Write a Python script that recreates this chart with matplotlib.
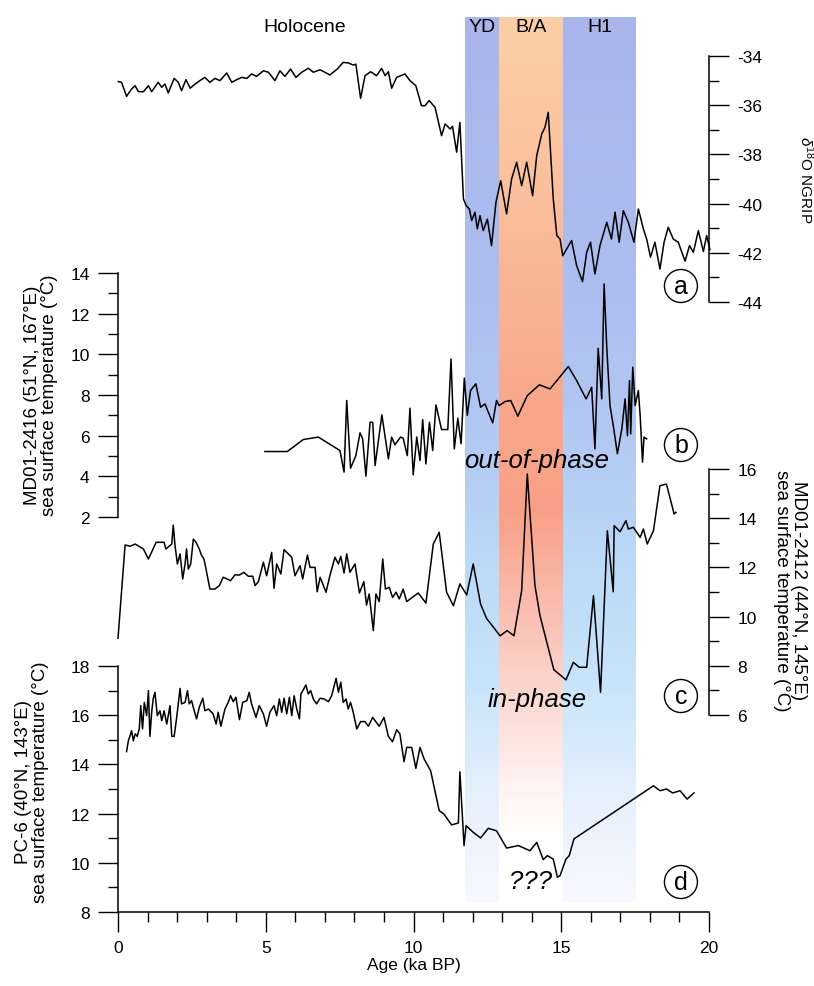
import numpy as np
import matplotlib.pyplot as plt
from matplotlib.colors import LinearSegmentedColormap
from matplotlib.ticker import MultipleLocator

plt.rcParams['font.family'] = ['Liberation Sans', 'DejaVu Sans']
plt.rcParams['mathtext.fontset'] = 'custom'
plt.rcParams['mathtext.rm'] = 'Liberation Sans'
plt.rcParams['mathtext.it'] = 'Liberation Sans:italic'
plt.rcParams['axes.unicode_minus'] = False

# --- records -------------------------------------------------------------
# (a) NGRIP d18O
a_age = [0.01, 0.12, 0.29, 0.46, 0.58, 0.69, 0.86, 1.03, 1.14, 1.36, 1.48, 1.59, 1.70,
         1.90, 2.04, 2.15, 2.30, 2.44, 2.61, 2.77, 2.94, 3.11, 3.28, 3.45, 3.68, 3.85,
         4.02, 4.19, 4.36, 4.52, 4.69, 4.92, 5.09, 5.31, 5.48, 5.65, 5.84, 6.02, 6.22,
         6.44, 6.61, 6.84, 7.17, 7.42, 7.62, 7.79, 7.96, 8.05, 8.21, 8.36, 8.55, 8.75,
         8.92, 9.04, 9.15, 9.26, 9.43, 9.71, 9.88, 10.08, 10.27, 10.39, 10.53, 10.73,
         10.95, 11.07, 11.24, 11.32, 11.46, 11.57, 11.69, 11.78, 11.89, 11.97, 12.08,
         12.16, 12.25, 12.36, 12.50, 12.64, 12.79, 12.95, 13.15, 13.32, 13.49, 13.66,
         13.83, 14.03, 14.17, 14.34, 14.45, 14.56, 14.73, 14.85, 14.96, 15.05, 15.18,
         15.35, 15.52, 15.72, 15.86, 15.99, 16.14, 16.31, 16.54, 16.70, 16.82, 16.96,
         17.10, 17.27, 17.46, 17.61, 17.78, 17.89, 18.02, 18.17, 18.34, 18.48, 18.62,
         18.79, 18.96, 19.19, 19.34, 19.47, 19.64, 19.81, 19.92, 20.03]
a_d18o = [-35.04, -35.07, -35.64, -35.34, -35.21, -35.45, -35.45, -35.21, -35.45, -35.07,
          -35.27, -35.14, -35.50, -34.91, -35.07, -35.41, -34.96, -35.31, -35.14, -35.00,
          -34.87, -35.07, -34.91, -35.00, -34.69, -35.07, -34.96, -34.87, -34.91, -34.73,
          -34.83, -34.60, -34.66, -35.00, -34.60, -34.83, -34.53, -34.87, -34.66, -34.50,
          -34.66, -34.56, -34.77, -34.53, -34.26, -34.28, -34.37, -34.33, -35.72, -34.80,
          -34.64, -34.80, -34.50, -34.80, -34.64, -35.31, -34.87, -34.73, -35.00, -35.21,
          -36.02, -36.02, -35.81, -36.09, -37.24, -36.76, -36.97, -36.86, -37.91, -36.70,
          -39.81, -40.08, -40.22, -40.69, -40.35, -41.03, -40.49, -41.10, -40.63, -41.71,
          -39.95, -39.07, -40.42, -39.00, -38.32, -39.27, -38.32, -39.68, -38.05, -37.17,
          -36.90, -36.29, -39.81, -41.30, -41.44, -42.12, -41.85, -41.50, -42.52, -43.17,
          -41.98, -41.57, -42.86, -41.71, -40.76, -41.44, -40.35, -41.57, -40.29, -40.76,
          -41.57, -40.22, -41.03, -41.44, -42.18, -41.57, -42.66, -41.57, -40.96, -41.44,
          -41.57, -42.34, -41.71, -41.98, -41.10, -41.95, -41.30, -41.87]

# (b) MD01-2416 SST
b_age = [4.97, 5.73, 6.27, 6.78, 7.51, 7.65, 7.74, 7.87, 8.05, 8.19, 8.28, 8.39, 8.53,
         8.62, 8.70, 8.93, 9.15, 9.26, 9.37, 9.56, 9.65, 9.79, 9.88, 9.99, 10.11, 10.22,
         10.31, 10.42, 10.54, 10.65, 10.76, 10.95, 11.16, 11.27, 11.38, 11.50, 11.61,
         11.72, 11.82, 11.93, 12.11, 12.27, 12.42, 12.53, 12.68, 12.81, 12.90, 13.10,
         13.29, 13.53, 13.85, 14.26, 14.62, 15.24, 15.52, 15.84, 16.03, 16.14, 16.25,
         16.37, 16.45, 16.54, 16.65, 16.76, 16.90, 17.05, 17.16, 17.24, 17.31, 17.35,
         17.42, 17.50, 17.61, 17.67, 17.75, 17.80, 17.89]
b_sst = [5.22, 5.22, 5.81, 5.93, 5.27, 4.21, 7.73, 4.40, 5.02, 6.14, 5.84, 4.01, 6.66,
         6.66, 4.53, 7.02, 4.86, 5.93, 5.55, 5.93, 5.88, 5.02, 7.35, 4.07, 5.93, 4.78,
         6.79, 4.61, 6.66, 5.27, 7.51, 6.30, 6.30, 9.77, 5.35, 6.86, 5.60, 8.83, 7.00,
         8.22, 8.55, 7.40, 7.56, 7.16, 6.63, 7.73, 7.48, 7.68, 7.73, 6.96, 7.97, 8.50,
         8.30, 9.40, 8.71, 7.81, 8.38, 5.35, 10.30, 7.81, 13.46, 10.35, 7.48, 6.50, 5.11,
         6.33, 7.81, 6.00, 8.71, 6.09, 9.37, 7.48, 8.22, 7.00, 4.70, 5.93, 5.84]

# (c) MD01-2412 SST
c_age = [0.00, 0.24, 0.41, 0.58, 0.86, 1.03, 1.29, 1.56, 1.62, 1.82, 1.87, 1.93, 2.01,
         2.10, 2.19, 2.27, 2.32, 2.38, 2.46, 2.55, 2.64, 2.75, 2.83, 2.91, 3.00, 3.11,
         3.28, 3.43, 3.56, 3.81, 3.96, 4.11, 4.26, 4.41, 4.56, 4.64, 4.75, 4.92, 5.03,
         5.20, 5.28, 5.37, 5.51, 5.62, 5.88, 5.99, 6.16, 6.25, 6.41, 6.50, 6.67, 6.74,
         6.84, 7.04, 7.17, 7.34, 7.46, 7.54, 7.65, 7.74, 7.85, 8.02, 8.17, 8.32, 8.41,
         8.50, 8.64, 8.73, 8.84, 8.96, 9.05, 9.18, 9.29, 9.41, 9.52, 9.65, 9.77, 10.16,
         10.42, 10.67, 10.87, 11.12, 11.35, 11.57, 11.80, 12.02, 12.27, 12.47, 12.93,
         13.17, 13.40, 13.66, 13.85, 14.11, 14.28, 14.75, 15.16, 15.41, 15.61, 15.86,
         16.09, 16.33, 16.56, 16.76, 16.79, 16.99, 17.19, 17.27, 17.44, 17.67, 17.78,
         17.91, 18.12, 18.34, 18.56, 18.82, 18.88]
c_sst = [9.12, 12.91, 12.86, 12.95, 12.75, 12.34, 13.02, 13.02, 12.75, 12.95, 13.72,
         12.88, 12.14, 12.55, 11.53, 12.14, 12.75, 11.93, 12.14, 13.15, 13.02, 12.75,
         12.48, 12.34, 11.80, 11.12, 11.12, 11.26, 11.60, 11.46, 11.70, 11.69, 11.80,
         11.64, 11.64, 11.26, 11.42, 12.21, 11.66, 12.61, 11.15, 12.14, 11.73, 12.72,
         12.41, 11.66, 12.07, 11.53, 12.50, 12.00, 12.00, 11.01, 11.60, 10.99, 11.66,
         12.41, 12.14, 12.45, 11.77, 12.55, 11.80, 12.14, 10.96, 11.42, 10.47, 10.92,
         9.43, 10.92, 10.61, 12.34, 11.12, 11.19, 10.78, 10.99, 10.72, 11.12, 10.61,
         10.96, 10.55, 12.95, 13.43, 10.99, 10.44, 11.33, 10.88, 12.14, 10.51, 9.93,
         9.22, 9.43, 9.22, 11.05, 15.80, 11.26, 10.04, 7.84, 7.43, 8.14, 7.94, 7.94,
         10.85, 6.92, 13.49, 11.01, 13.70, 13.45, 13.90, 13.56, 13.63, 13.22, 13.56,
         12.95, 13.49, 15.32, 15.39, 14.17, 14.24]

# (d) PC-6 SST
d_age = [0.29, 0.35, 0.41, 0.46, 0.52, 0.58, 0.65, 0.72, 0.77, 0.83, 0.89, 0.97, 1.03,
         1.08, 1.14, 1.19, 1.25, 1.33, 1.42, 1.48, 1.56, 1.65, 1.76, 1.82, 1.90, 1.98,
         2.10, 2.15, 2.27, 2.35, 2.41, 2.49, 2.58, 2.66, 2.75, 2.87, 2.94, 3.06, 3.22,
         3.32, 3.39, 3.48, 3.62, 3.73, 3.81, 3.90, 3.99, 4.11, 4.22, 4.36, 4.44, 4.52,
         4.67, 4.78, 4.92, 5.03, 5.14, 5.28, 5.37, 5.46, 5.54, 5.62, 5.71, 5.80, 5.88,
         5.96, 6.05, 6.14, 6.19, 6.36, 6.44, 6.52, 6.61, 6.72, 6.84, 6.97, 7.12, 7.23,
         7.38, 7.46, 7.54, 7.62, 7.72, 7.79, 7.87, 7.96, 8.08, 8.21, 8.36, 8.47, 8.62,
         8.84, 9.00, 9.15, 9.29, 9.43, 9.54, 9.68, 9.77, 9.94, 10.08, 10.22, 10.36,
         10.58, 10.87, 11.03, 11.29, 11.52, 11.57, 11.71, 11.78, 12.02, 12.27, 12.53,
         12.81, 13.15, 13.55, 13.94, 14.17, 14.39, 14.53, 14.73, 14.87, 14.96, 15.16,
         15.27, 15.43, 18.12, 18.34, 18.56, 18.77, 19.02, 19.26, 19.49]
d_sst = [14.52, 14.96, 15.17, 15.37, 14.96, 15.24, 15.14, 15.44, 16.39, 15.44, 16.52,
         15.98, 17.00, 15.14, 16.12, 16.66, 16.93, 15.98, 16.18, 15.78, 16.18, 15.64,
         16.39, 15.14, 15.14, 15.85, 17.09, 16.46, 16.52, 17.00, 16.46, 16.59, 16.18,
         15.85, 16.32, 16.69, 16.18, 16.25, 16.05, 15.64, 16.12, 15.55, 16.25, 16.52,
         16.79, 16.55, 16.73, 15.82, 16.52, 16.59, 16.93, 16.46, 15.91, 16.39, 16.05,
         15.55, 16.12, 16.39, 15.98, 16.66, 16.12, 16.69, 16.05, 16.73, 15.98, 16.79,
         16.25, 15.85, 16.86, 17.23, 16.86, 17.00, 16.66, 16.46, 16.69, 16.66, 16.55,
         16.79, 17.50, 16.93, 17.34, 16.52, 16.66, 16.25, 16.52, 16.12, 15.44, 15.74,
         15.74, 15.55, 15.91, 15.55, 15.91, 15.14, 14.92, 15.41, 15.24, 14.11, 14.69,
         14.69, 13.84, 14.69, 14.22, 13.74, 12.12, 11.98, 11.54, 11.62, 13.70, 10.70,
         11.51, 11.24, 11.01, 11.40, 11.30, 10.60, 10.70, 10.49, 10.83, 10.13, 10.29,
         10.15, 9.41, 9.48, 10.15, 10.29, 10.97, 13.13, 12.93, 13.00, 12.84, 12.93,
         12.59, 12.84]

# climate intervals (ka BP)
periods = ['YD', 'B/A', 'H1']
period_start = [11.74, 12.90, 15.06]
period_end = [12.90, 15.06, 17.53]
period_kind = ['cold', 'warm', 'cold']

# --- layout ----------------------------------------------------------------
W, H = 814, 987
LEFT, RIGHT = 118, 709
fig = plt.figure(figsize=(W / 100, H / 100), dpi=100)

cold = LinearSegmentedColormap.from_list('cold', [
    (0.0, '#a9b5eb'), (0.32, '#adbef0'), (0.5, '#b4cbf3'), (0.62, '#bcd9f7'),
    (0.75, '#c7e4fa'), (0.88, '#e5f0fd'), (1.0, '#f8f8fe')])
warm = LinearSegmentedColormap.from_list('warm', [
    (0.0, '#fbcea6'), (0.2, '#fabf9c'), (0.43, '#f8a88c'), (0.56, '#f8a087'),
    (0.71, '#fac8be'), (0.86, '#fff0ee'), (0.93, '#ffffff'), (1.0, '#ffffff')])

bg = fig.add_axes([LEFT / W, 0, (RIGHT - LEFT) / W, 1])
bg.set_xlim(0, 20)
bg.set_ylim(H, 0)
bg.axis('off')

grad = np.linspace(0, 1, 256).reshape(-1, 1)
for name, x0, x1, kind in zip(periods, period_start, period_end, period_kind):
    bg.imshow(grad, cmap=cold if kind == 'cold' else warm, aspect='auto',
              extent=(x0, x1, 903, 18), origin='upper', interpolation='bilinear')
    bg.text((x0 + x1) / 2, 27, name, ha='center', va='center', fontsize=14)
bg.text(6.33, 27, 'Holocene', ha='center', va='center', fontsize=14)
bg.set_xlim(0, 20)
bg.set_ylim(H, 0)

bg.text(14.18, 461, 'out-of-phase', ha='center', va='center', fontsize=18.5, style='italic')
bg.text(14.18, 700, 'in-phase', ha='center', va='center', fontsize=18.5, style='italic')
bg.text(13.97, 882, '???', ha='center', va='center', fontsize=18.5, style='italic')

for letter, yc in zip('abcd', [287, 446, 697, 883]):
    bg.text(19.05, yc, letter, ha='center', va='center', fontsize=18,
            bbox=dict(boxstyle='circle,pad=0.18', fc='white', ec='black', lw=1))


def panel(top, bottom, lo, hi, side):
    ax = fig.add_axes([LEFT / W, 1 - bottom / H, (RIGHT - LEFT) / W, (bottom - top) / H])
    ax.patch.set_visible(False)
    ax.set_xlim(0, 20)
    ax.set_ylim(lo, hi)
    for s in ax.spines.values():
        s.set_visible(False)
        s.set_linewidth(1.1)
    ax.spines[side].set_visible(True)
    if side == 'right':
        ax.yaxis.tick_right()
    ax.yaxis.set_major_locator(MultipleLocator(2))
    ax.yaxis.set_minor_locator(MultipleLocator(1))
    ax.tick_params(axis='y', which='major', direction='out', length=14.5, width=1,
                   labelsize=12.5, pad=6)
    ax.tick_params(axis='y', which='minor', direction='out', length=7.5, width=1)
    ax.set_xticks([])
    return ax


ax_a = panel(57, 303, -44, -34, 'right')
ax_a.plot(a_age, a_d18o, color='black', lw=1.1, clip_on=False)

ax_b = panel(274, 518, 2, 14, 'left')
ax_b.plot(b_age, b_sst, color='black', lw=1.1, clip_on=False)

ax_c = panel(470, 716, 6, 16, 'right')
ax_c.plot(c_age, c_sst, color='black', lw=1.1, clip_on=False)

ax_d = panel(667, 913, 8, 18, 'left')
ax_d.plot(d_age, d_sst, color='black', lw=1.1, clip_on=False)
ax_d.spines['bottom'].set_visible(True)
ax_d.xaxis.set_major_locator(MultipleLocator(5))
ax_d.xaxis.set_minor_locator(MultipleLocator(1))
ax_d.tick_params(axis='x', which='major', direction='out', length=14.5, width=1,
                 labelsize=12.5, pad=6)
ax_d.tick_params(axis='x', which='minor', direction='out', length=7.5, width=1)
ax_d.set_xlabel('Age (ka BP)', fontsize=12.5, labelpad=1)

# axis titles
fig.text(806 / W, 1 - 180 / H, r'$\delta^{18}$O NGRIP', rotation=-90,
         ha='center', va='center', fontsize=11)
fig.text(41 / W, 1 - 395 / H, 'MD01-2416 (51°N, 167°E)\nsea surface temperature (°C)',
         rotation=90, ha='center', va='center', ma='center', fontsize=13.5, linespacing=1.0)
fig.text(790 / W, 1 - 591 / H, 'MD01-2412 (44°N, 145°E)\nsea surface temperature (°C)',
         rotation=-90, ha='center', va='center', ma='center', fontsize=13.5, linespacing=1.0)
fig.text(32 / W, 1 - 782 / H, 'PC-6 (40°N, 143°E)\nsea surface temperature (°C)',
         rotation=90, ha='center', va='center', ma='center', fontsize=13.5, linespacing=1.0)

fig.savefig('out.png', dpi=100)
